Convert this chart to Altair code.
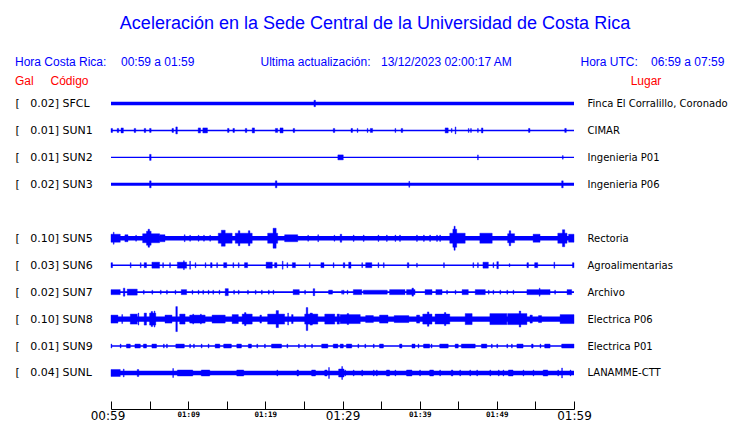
import json
import altair as alt
import pandas as pd

# ---------------- text ----------------
TITLE = "Aceleración en la Sede Central de la Universidad de Costa Rica"
HEADER = ["Hora Costa Rica:", "00:59 a 01:59", "Ultima actualización:",
          "13/12/2023 02:00:17 AM", "Hora UTC:", "06:59 a 07:59"]
COL_HEAD_LEFT = ["Gal", "Código"]
COL_HEAD_RIGHT = "Lugar"

# ---------------- stations ----------------
STATIONS = ["SFCL", "SUN1", "SUN2", "SUN3", "SUN5", "SUN6", "SUN7", "SUN8", "SUN9", "SUNL"]
ROWS = [0, 1, 2, 3, 5, 6, 7, 8, 9, 10]
PEAK_GAL = ["0.02", "0.01", "0.01", "0.02", "0.10", "0.03", "0.02", "0.10", "0.01", "0.04"]
PLACES = ["Finca El Corralillo, Coronado", "CIMAR", "Ingenieria P01", "Ingenieria P06",
          "Rectoria", "Agroalimentarias", "Archivo", "Electrica P06", "Electrica P01",
          "LANAMME-CTT"]
# background (noise) half-amplitude of every trace
BASE_AMP = [1.8, 0.7, 0.7, 1.5, 2.2, 0.8, 0.9, 2.6, 0.8, 2.2]

# time axis (minutes after 00:59)
T_START, T_END = 0, 60
TICK_MIN = [0, 5, 10, 15, 20, 25, 30, 35, 40, 45, 50, 55, 60]
LABEL_MIN = [0, 10, 20, 30, 40, 50, 60]
LABEL_TEXT = ["00:59", "01:09", "01:19", "01:29", "01:39", "01:49", "01:59"]

# bursts: [start minute, end minute, half amplitude]
SEG_SFCL = [[26.3, 26.5, 3.2]]
SEG_SUN1 = [[0.0, 0.2, 2], [0.8, 1.0, 2], [1.3, 1.6, 2.5], [3.0, 3.2, 2], [4.3, 4.5, 2],
            [5.0, 5.2, 2], [7.9, 8.1, 2], [8.4, 8.6, 3.5], [11.3, 11.6, 2.5], [11.9, 12.5, 2.5],
            [15.1, 15.3, 2], [15.8, 16.0, 2], [17.4, 17.6, 2], [18.3, 18.6, 2.5], [21.3, 21.6, 2],
            [21.9, 22.3, 2.5], [23.6, 23.8, 2], [28.8, 29.0, 2], [31.1, 31.3, 2], [31.9, 32.0, 2],
            [33.2, 33.3, 2], [33.6, 33.9, 2], [36.8, 36.9, 2], [37.6, 37.8, 2], [43.3, 43.7, 2.5],
            [44.1, 44.2, 2], [44.6, 44.7, 3.5], [46.3, 46.4, 2], [46.6, 46.7, 2], [47.5, 47.6, 2],
            [48.0, 48.2, 2.5], [54.1, 54.3, 2], [58.8, 59.0, 2]]
SEG_SUN2 = [[5.0, 5.2, 3], [29.4, 30.1, 2.5], [47.5, 47.6, 2.5], [58.5, 58.6, 1.8]]
SEG_SUN3 = [[5.0, 5.2, 3.5], [21.3, 21.5, 3.5], [38.6, 38.7, 3], [58.4, 58.6, 3.5]]
SEG_SUN5 = [[0.0, 1.2, 4], [0.3, 0.4, 6], [1.8, 2.2, 3.5], [3.2, 3.3, 3], [4.1, 6.3, 4.5],
            [4.6, 5.2, 7], [4.8, 5.0, 9], [6.3, 7.0, 3.5], [9.5, 9.6, 3.5], [10.2, 10.3, 3],
            [11.3, 11.4, 3], [12.0, 12.1, 3], [12.8, 12.9, 3], [13.9, 15.7, 5], [14.3, 14.8, 8],
            [16.1, 18.3, 5], [16.5, 16.7, 7.5], [17.8, 18.0, 7.5], [20.3, 21.6, 5], [21.0, 21.4, 10],
            [22.5, 24.2, 3.5], [25.5, 25.6, 3], [26.8, 26.9, 3.5], [28.9, 29.0, 3], [29.7, 29.9, 4],
            [31.4, 31.5, 3.2], [32.7, 32.8, 3.2], [34.6, 34.7, 3.2], [35.7, 35.8, 3.2],
            [36.8, 36.9, 3.2], [37.4, 37.5, 3.2], [39.6, 39.7, 3.2], [40.5, 40.6, 3.2],
            [41.3, 41.4, 3.2], [42.2, 42.3, 3.2], [42.6, 42.7, 3.2], [43.9, 45.9, 5],
            [44.3, 44.8, 9], [44.45, 44.6, 12], [47.8, 49.4, 5], [51.4, 52.3, 4.5],
            [51.6, 51.8, 7.5], [54.7, 55.6, 4], [57.9, 59.1, 5], [58.5, 58.8, 8.5], [59.3, 60.0, 4]]
SEG_SUN6 = [[0.0, 0.2, 2.5], [2.5, 2.6, 2.5], [3.8, 3.9, 2.5], [4.3, 4.6, 2.5], [5.3, 6.3, 3],
            [6.7, 6.8, 2.5], [7.6, 7.7, 2.5], [8.6, 9.8, 3], [9.4, 9.5, 4.5], [10.2, 10.3, 4],
            [10.9, 11.0, 2.5], [12.2, 12.3, 2.5], [12.9, 13.1, 2.5], [13.7, 13.8, 2.5],
            [14.6, 15.0, 2.5], [15.8, 15.9, 2.5], [16.5, 16.6, 2.5], [17.3, 17.7, 2.5],
            [20.1, 20.9, 3], [21.2, 21.5, 2.5], [22.2, 22.3, 4], [22.8, 22.9, 2.5],
            [23.5, 23.9, 2.5], [25.7, 25.8, 2.5], [27.2, 27.6, 2.5], [28.8, 28.9, 2.5],
            [30.1, 30.3, 2.5], [30.8, 31.1, 3], [32.5, 32.6, 2.5], [33.0, 33.8, 2.5],
            [34.6, 34.7, 2.5], [35.3, 35.4, 2.5], [38.4, 38.6, 2.5], [39.6, 39.7, 2],
            [43.1, 43.2, 2.5], [46.9, 47.0, 2.5], [47.5, 47.6, 2.5], [48.2, 48.9, 3],
            [49.5, 49.6, 2.5], [50.0, 50.2, 3.5], [51.6, 51.7, 1.5], [53.9, 54.1, 2.5],
            [54.9, 55.3, 2.5], [57.4, 57.5, 3], [59.8, 60.0, 2.5]]
SEG_SUN7 = [[0.0, 1.2, 2.5], [1.6, 1.8, 4], [2.1, 3.4, 3], [4.2, 4.3, 2], [5.3, 5.4, 2],
            [6.4, 6.5, 2], [7.2, 7.3, 2], [8.3, 8.4, 2], [9.1, 9.8, 2.5], [10.5, 10.6, 2],
            [11.3, 11.4, 2], [11.9, 12.0, 2], [12.6, 12.7, 2], [13.2, 13.3, 2], [14.0, 14.1, 2],
            [14.8, 15.2, 3.5], [15.9, 16.0, 2], [16.5, 16.6, 2], [17.7, 17.8, 2], [18.7, 18.8, 2],
            [19.5, 19.6, 2], [20.4, 20.5, 2], [21.0, 21.1, 2], [23.6, 24.4, 2.5], [25.1, 25.2, 2],
            [26.2, 26.4, 3.5], [28.2, 28.7, 2], [29.9, 30.0, 2], [30.1, 30.2, 2], [30.6, 30.7, 2],
            [31.4, 32.5, 2.5], [32.7, 35.8, 2], [36.1, 38.1, 2.5], [38.3, 39.4, 2.5],
            [39.0, 39.2, 4], [40.7, 41.6, 2.5], [42.1, 42.9, 2.5], [43.5, 43.6, 2],
            [44.6, 44.7, 2], [45.5, 46.3, 2.5], [47.2, 48.5, 2.5], [48.9, 49.0, 2],
            [49.5, 49.6, 2], [50.4, 50.5, 2], [51.3, 51.4, 2], [52.1, 52.2, 2], [53.9, 56.9, 2.5],
            [55.5, 55.6, 4], [57.5, 57.6, 2], [59.1, 59.7, 2.5]]
SEG_SUN8 = [[0.0, 0.9, 4], [1.4, 1.5, 4.5], [2.5, 3.4, 5], [3.5, 3.6, 6], [4.3, 4.6, 6],
            [5.0, 5.8, 6], [5.2, 5.4, 7.5], [5.6, 5.7, 8], [7.0, 7.9, 4], [8.4, 8.6, 12.5],
            [8.9, 9.6, 5], [10.2, 12.2, 4], [10.6, 10.7, 5], [11.6, 11.7, 5], [13.1, 14.8, 4],
            [15.7, 16.5, 4.5], [17.0, 18.3, 5], [17.3, 17.5, 6.5], [19.3, 19.5, 4],
            [20.3, 22.5, 5], [21.4, 21.7, 8.5], [22.9, 23.0, 6], [23.4, 23.6, 4.5],
            [25.1, 26.8, 5], [25.3, 25.5, 11.5], [25.8, 26.1, 6], [27.7, 29.0, 5],
            [29.3, 29.6, 5], [29.7, 32.3, 4.5], [30.6, 30.8, 5.5], [33.0, 34.0, 3.5],
            [34.8, 35.9, 4], [36.7, 38.6, 3.5], [39.6, 40.0, 4], [40.4, 41.6, 5],
            [41.0, 41.2, 7.2], [42.0, 43.9, 5], [43.2, 43.4, 6.5], [45.9, 46.8, 5.5],
            [49.1, 51.3, 5.5], [51.4, 53.9, 5.5], [52.9, 53.1, 8], [54.3, 54.6, 4],
            [55.4, 55.8, 3.5], [58.2, 60.0, 4.5]]
SEG_SUN9 = [[0.0, 0.1, 2], [1.2, 1.3, 2], [2.0, 2.5, 2], [3.1, 3.8, 2], [4.2, 4.6, 2],
            [5.3, 5.9, 2], [6.8, 6.9, 2], [7.2, 7.3, 2], [8.4, 9.5, 2], [10.2, 10.3, 2],
            [10.7, 10.8, 2], [11.7, 11.8, 2], [12.6, 12.7, 2], [13.5, 14.1, 2], [14.6, 15.6, 2],
            [16.3, 16.9, 2], [17.8, 18.2, 2], [18.9, 19.0, 2], [19.9, 20.0, 2], [20.8, 22.1, 2],
            [22.8, 22.9, 2], [24.3, 24.4, 2], [25.1, 25.2, 2], [26.0, 26.1, 2], [27.3, 28.1, 2],
            [28.8, 29.4, 2], [29.7, 30.1, 2], [30.5, 31.2, 2], [32.0, 32.1, 2], [32.9, 33.0, 2],
            [34.0, 34.1, 2], [34.8, 35.3, 2], [37.4, 37.7, 2], [39.0, 39.4, 2], [39.8, 39.9, 2],
            [40.5, 41.3, 2], [41.5, 41.6, 2], [42.6, 43.7, 2], [44.6, 45.0, 2], [45.4, 47.2, 2],
            [48.0, 48.7, 2], [49.3, 49.4, 2], [50.0, 50.1, 2], [51.3, 51.4, 2], [51.9, 52.0, 2],
            [52.6, 53.4, 2], [54.5, 54.7, 2], [55.6, 55.7, 2], [56.2, 56.9, 2], [58.4, 60.0, 2]]
SEG_SUNL = [[0.0, 1.2, 3.5], [1.6, 1.7, 4], [3.4, 3.6, 3.5], [8.0, 8.1, 4.5], [8.6, 10.6, 3],
            [11.7, 12.8, 3], [16.3, 17.2, 3], [21.5, 21.6, 3], [24.1, 24.3, 3], [26.0, 26.5, 3],
            [27.7, 28.0, 3], [28.2, 28.3, 5.5], [29.5, 30.2, 4], [29.9, 30.0, 6.5],
            [30.3, 30.4, 3], [31.4, 31.5, 3], [32.5, 32.6, 3], [34.0, 34.1, 3], [34.4, 34.5, 3],
            [35.7, 36.1, 3], [36.8, 36.9, 3], [38.3, 39.0, 3], [40.0, 40.1, 3], [41.3, 41.8, 3],
            [42.6, 42.7, 3], [44.1, 44.3, 3], [45.2, 45.3, 3], [46.5, 46.6, 3], [47.4, 47.5, 3],
            [49.1, 49.2, 3], [50.2, 50.3, 3], [50.8, 50.9, 3], [51.5, 52.1, 3], [53.4, 53.5, 3],
            [54.7, 54.8, 3], [56.0, 56.6, 3], [57.9, 58.0, 3], [58.4, 58.5, 5], [59.5, 59.6, 3]]
SEGMENTS = [SEG_SFCL, SEG_SUN1, SEG_SUN2, SEG_SUN3, SEG_SUN5, SEG_SUN6, SEG_SUN7,
            SEG_SUN8, SEG_SUN9, SEG_SUNL]

# ---------------- style ----------------
BLUE = "#0000ff"
RED = "#ff0000"
ROW_PX = 26.95          # pixels between two trace rows
PLOT_W, PLOT_H = 463, 319
Y_DOMAIN = [-0.5, 11.336]
HEAD_FONT = "Liberation Sans"
LAB_FONT = "DejaVu Sans"

# ---------------- tables ----------------
base_df = pd.DataFrame({"station": STATIONS, "row": ROWS, "amp": BASE_AMP})
base_df["t0"] = T_START
base_df["t1"] = T_END
base_df["lo"] = base_df["row"] - base_df["amp"] / ROW_PX
base_df["hi"] = base_df["row"] + base_df["amp"] / ROW_PX

recs = []
for st, row, segs in zip(STATIONS, ROWS, SEGMENTS):
    for t0, t1, a in segs:
        recs.append({"station": st, "row": row, "t0": t0, "t1": t1,
                     "lo": row - a / ROW_PX, "hi": row + a / ROW_PX})
seg_df = pd.DataFrame(recs)

nb = "\u00a0"
left_labels = [""] * 11
right_labels = [""] * 11
for r, st, g, p in zip(ROWS, STATIONS, PEAK_GAL, PLACES):
    left_labels[r] = "[" + nb * 3 + g + "]" + nb + st
    right_labels[r] = p.replace(" ", nb)

xscale = alt.Scale(domain=[T_START, T_END], nice=False, zero=False)
yscale = alt.Scale(domain=Y_DOMAIN, reverse=True, nice=False, zero=False)

bottom_axis = alt.Axis(
    orient="bottom", values=LABEL_MIN, domain=False, ticks=False, grid=False,
    labelExpr=json.dumps(LABEL_TEXT) + "[datum.value/10]",
    labelBaseline="top", labelPadding=1, labelColor="black",
    labelFont={"condition": {"test": "datum.value % 30 === 0", "value": LAB_FONT},
               "value": "DejaVu Sans Mono"},
    labelFontSize={"condition": {"test": "datum.value % 30 === 0", "value": 12}, "value": 7.5},
    labelFontWeight={"condition": {"test": "datum.value % 30 === 0", "value": "normal"},
                     "value": "bold"},
    labelOffset={"condition": {"test": "datum.value === 0", "value": -3.5}, "value": 0},
    labelFlush=False, labelOverlap=False, title=None,
)
tick_axis = alt.Axis(
    orient="top", offset=-PLOT_H, values=TICK_MIN, labels=False, grid=False,
    domain=True, domainColor="black", domainWidth=1, ticks=True, tickSize=8,
    tickColor="black", tickWidth=1, title=None,
)
left_axis = alt.Axis(
    orient="left", values=ROWS, domain=False, ticks=False, grid=False,
    labelExpr=json.dumps(left_labels, ensure_ascii=False) + "[datum.value]",
    labelAlign="left", labelPadding=96, labelFont=LAB_FONT, labelFontSize=11,
    labelColor="black", labelOverlap=False, labelBaseline="middle",
    title=None,
)
right_axis = alt.Axis(
    orient="right", values=ROWS, domain=False, ticks=False, grid=False,
    labelExpr=json.dumps(right_labels, ensure_ascii=False) + "[datum.value]",
    labelAlign="left", labelPadding=13, labelFont=LAB_FONT, labelFontSize=10,
    labelColor="black", labelOverlap=False, labelBaseline="middle", labelLimit=200,
    title=None,
)

base_layer = alt.Chart(base_df).mark_rect(color=BLUE).encode(
    x=alt.X("t0:Q", scale=xscale, axis=bottom_axis),
    x2="t1:Q",
    y=alt.Y("lo:Q", scale=yscale, axis=left_axis),
    y2="hi:Q",
)
seg_layer = alt.Chart(seg_df).mark_rect(color=BLUE, stroke=BLUE, strokeWidth=0.4).encode(
    x=alt.X("t0:Q", scale=xscale, axis=tick_axis),
    x2="t1:Q",
    y=alt.Y("lo:Q", scale=yscale, axis=right_axis),
    y2="hi:Q",
)


def text_layer(txt, x, y, color, size, align="left", font=HEAD_FONT):
    return alt.Chart(pd.DataFrame({"t": [txt]})).mark_text(
        align=align, baseline="alphabetic", font=font, fontSize=size, color=color
    ).encode(text="t:N", x=alt.value(x), y=alt.value(y))


texts = [
    text_layer(TITLE, 264, -60.7, BLUE, 18, align="center"),
    text_layer(HEADER[0], -96, -24.5, BLUE, 12),
    text_layer(HEADER[1], 10, -24.5, BLUE, 12),
    text_layer(HEADER[2], 149.5, -24.5, BLUE, 12),
    text_layer(HEADER[3], 270, -24.5, BLUE, 12),
    text_layer(HEADER[4], 469.5, -24.5, BLUE, 12),
    text_layer(HEADER[5], 540, -24.5, BLUE, 12),
    text_layer(COL_HEAD_LEFT[0], -96, -5, RED, 12),
    text_layer(COL_HEAD_LEFT[1], -60.5, -5, RED, 12),
    text_layer(COL_HEAD_RIGHT, 535, -5, RED, 12, align="center"),
]

chart = alt.layer(base_layer, seg_layer, *texts).resolve_axis(
    x="independent", y="independent"
).properties(
    width=PLOT_W, height=PLOT_H,
    autosize=alt.AutoSizeParams(type="none"),
    padding={"left": 103, "top": 82, "right": 158, "bottom": 13},
    background="white",
).configure_view(stroke=None)

chart.save("out.html", embed_options={"renderer": "svg", "actions": False})
